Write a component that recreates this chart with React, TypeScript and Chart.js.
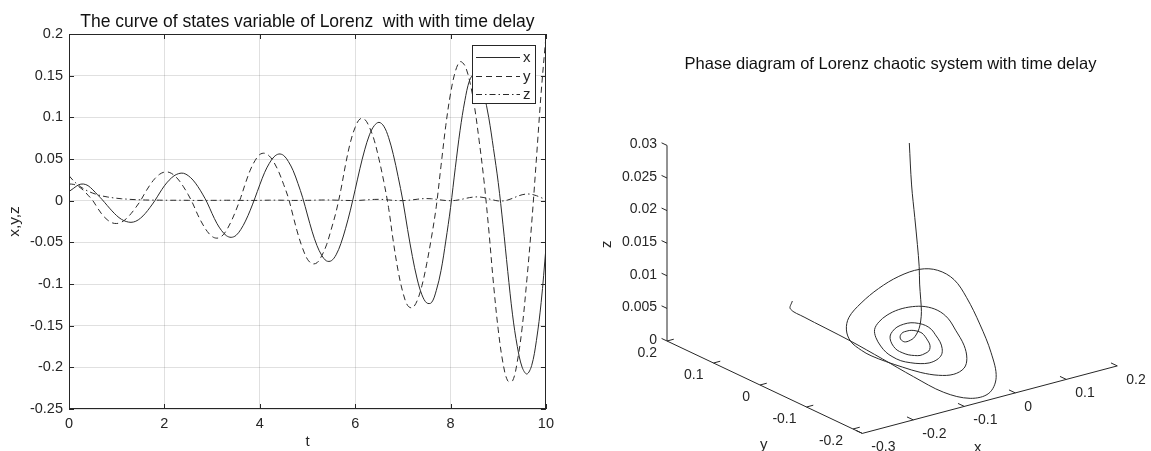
import React, { useEffect, useRef } from "react";
import { Chart, registerables } from "chart.js";

Chart.register(...registerables);

// ---------------- data ----------------
const T_STEP = 0.1;
const TIMES: number[] = Array.from({ length: 101 }, (_, i) => Math.round(i * T_STEP * 10) / 10);

const X_VALUES: number[] = [
  0.011, 0.015, 0.019, 0.02, 0.018, 0.013, 0.007, 0.001, -0.0057, -0.0122,
  -0.018, -0.0224, -0.025, -0.026, -0.0247, -0.021, -0.0153, -0.008, 0.0, 0.0092,
  0.0178, 0.0246, 0.0297, 0.0325, 0.0329, 0.03, 0.0247, 0.0171, 0.0079, -0.0027,
  -0.0155, -0.0272, -0.036, -0.042, -0.044, -0.0418, -0.0348, -0.0245, -0.0115, 0.0033,
  0.019, 0.0336, 0.0448, 0.0527, 0.056, 0.0543, 0.047, 0.036, 0.0207, 0.0035,
  -0.0172, -0.0374, -0.054, -0.0657, -0.0723, -0.0721, -0.065, -0.0516, -0.0331, -0.0114,
  0.0132, 0.0385, 0.061, 0.079, 0.09, 0.094, 0.0894, 0.076, 0.0553, 0.029,
  0.0, -0.0347, -0.067, -0.094, -0.113, -0.1227, -0.1224, -0.108, -0.084, -0.0485,
  -0.0083, 0.0395, 0.0845, 0.12, 0.1445, 0.152, 0.146, 0.1277, 0.1, 0.0625,
  0.0217, -0.029, -0.085, -0.137, -0.175, -0.1997, -0.208, -0.198, -0.168, -0.122,
  -0.057,
];

const Y_VALUES: number[] = [
  0.02, 0.0195, 0.017, 0.0125, 0.0065, 0.0, -0.0089, -0.017, -0.0228, -0.0265,
  -0.0274, -0.0258, -0.0217, -0.0156, -0.0082, 0.0, 0.01, 0.019, 0.0265, 0.0317,
  0.0343, 0.034, 0.0307, 0.0248, 0.0167, 0.0072, -0.004, -0.017, -0.028, -0.037,
  -0.043, -0.045, -0.0428, -0.0357, -0.025, -0.0117, 0.0036, 0.021, 0.0366, 0.048,
  0.0554, 0.0569, 0.0536, 0.0457, 0.0343, 0.0195, 0.0033, -0.0186, -0.04, -0.0575,
  -0.0703, -0.0757, -0.0745, -0.066, -0.053, -0.034, -0.0134, 0.0129, 0.0437, 0.07,
  0.088, 0.098, 0.0976, 0.088, 0.0725, 0.0497, 0.023, -0.0083, -0.049, -0.084,
  -0.11, -0.1258, -0.1285, -0.12, -0.102, -0.0758, -0.044, -0.0074, 0.0418, 0.09,
  0.1286, 0.155, 0.1668, 0.162, 0.1436, 0.1136, 0.0718, 0.0246, -0.034, -0.0994,
  -0.155, -0.195, -0.2163, -0.2163, -0.193, -0.153, -0.095, -0.028, 0.05, 0.13,
  0.197,
];

const Z_VALUES: number[] = [
  0.03, 0.0235, 0.0185, 0.0145, 0.0114, 0.009, 0.0071, 0.0056, 0.0045, 0.0036,
  0.0029, 0.0023, 0.0019, 0.0015, 0.0012, 0.001, 0.0008, 0.0007, 0.0006, 0.0006,
  0.0005, 0.0005, 0.0005, 0.0005, 0.0005, 0.0004, 0.0003, 0.0003, 0.0003, 0.0003,
  0.0004, 0.0004, 0.0005, 0.0005, 0.0005, 0.0004, 0.0003, 0.0003, 0.0003, 0.0003,
  0.0004, 0.0005, 0.0006, 0.0006, 0.0006, 0.0005, 0.0004, 0.0003, 0.0003, 0.0003,
  0.0004, 0.0005, 0.0007, 0.0008, 0.0008, 0.0008, 0.0006, 0.0004, 0.0003, 0.0002,
  0.0002, 0.0004, 0.0008, 0.0012, 0.0015, 0.0016, 0.0014, 0.0009, 0.0004, 0.0001,
  0.0001, 0.0004, 0.001, 0.0017, 0.0023, 0.0025, 0.0023, 0.0016, 0.0008, 0.0002,
  0.0, 0.0003, 0.0012, 0.0025, 0.0037, 0.0044, 0.0045, 0.0037, 0.0022, 0.0008,
  -0.0003, -0.0003, 0.0008, 0.0028, 0.0052, 0.0071, 0.008, 0.0076, 0.006, 0.0036,
  0.0012,
];

const SERIES_LABELS = ["x", "y", "z"];
const T_TICK_STEP = 2;
const V_MIN = -0.25;
const V_MAX = 0.2;
const V_TICK_STEP = 0.05;

// 3-D axes of the phase diagram
const X3_LIM = [-0.3, 0.2];
const Y3_LIM = [-0.22, 0.2];
const Z3_LIM = [0, 0.03];
const X3_TICKS = [-0.3, -0.2, -0.1, 0, 0.1, 0.2];
const Y3_TICKS = [-0.2, -0.1, 0, 0.1, 0.2];
const Z3_TICKS = [0, 0.005, 0.01, 0.015, 0.02, 0.025, 0.03];

// ---------------- styles ----------------
const FONT = '"Liberation Sans", Arial, Helvetica, sans-serif';
const AXIS_COLOR = "#262626";
const LINE_COLOR = "#2a2a2a";
const GRID_COLOR = "rgba(38,38,38,0.14)";
const DASHES: (number[] | undefined)[] = [undefined, [6, 4], [6, 3, 1.5, 3]];

const fmt = (v: number) => {
  const n = Math.round(v * 10000) / 10000;
  return n === 0 ? "0" : String(n);
};

// 3-D orthographic view (MATLAB default view), in pixels of the right canvas
const RIGHT_LEFT = 560;
const ORIGIN = [913 - RIGHT_LEFT, 344.5];
const EX = [510, -135];
const EY = [-465, -220];
const EZ = [0, -6520];
const project = (x: number, y: number, z: number) => ({
  x: ORIGIN[0] + EX[0] * x + EY[0] * y + EZ[0] * z,
  y: ORIGIN[1] + EX[1] * x + EY[1] * y + EZ[1] * z,
});

const boxPlugin = {
  id: "matlabBox",
  afterDraw(chart: any) {
    const { ctx, chartArea: a, scales } = chart;
    ctx.save();
    ctx.strokeStyle = AXIS_COLOR;
    ctx.lineWidth = 1;
    ctx.strokeRect(Math.round(a.left) + 0.5, Math.round(a.top) + 0.5, Math.round(a.right - a.left) - 1, Math.round(a.bottom - a.top) - 1);
    const tl = 5;
    ctx.beginPath();
    scales.x.ticks.forEach((t: any) => {
      const px = Math.round(scales.x.getPixelForValue(t.value)) + 0.5;
      ctx.moveTo(px, a.bottom);
      ctx.lineTo(px, a.bottom - tl);
      ctx.moveTo(px, a.top);
      ctx.lineTo(px, a.top + tl);
    });
    scales.y.ticks.forEach((t: any) => {
      const py = Math.round(scales.y.getPixelForValue(t.value)) + 0.5;
      ctx.moveTo(a.left, py);
      ctx.lineTo(a.left + tl, py);
      ctx.moveTo(a.right, py);
      ctx.lineTo(a.right - tl, py);
    });
    ctx.stroke();
    ctx.restore();
  },
};

const legendPlugin = {
  id: "matlabLegend",
  afterDatasetsDraw(chart: any) {
    const { ctx, chartArea: a } = chart;
    const w = 63;
    const h = 58;
    const x0 = Math.round(a.right - 11 - w);
    const y0 = Math.round(a.top + 11);
    ctx.save();
    ctx.fillStyle = "#ffffff";
    ctx.fillRect(x0, y0, w, h);
    ctx.strokeStyle = AXIS_COLOR;
    ctx.lineWidth = 1;
    ctx.strokeRect(x0 + 0.5, y0 + 0.5, w, h);
    chart.data.datasets.forEach((ds: any, i: number) => {
      const cy = Math.round(y0 + 12 + i * 18.5) + 0.5;
      ctx.beginPath();
      ctx.setLineDash(ds.borderDash || []);
      ctx.strokeStyle = ds.borderColor;
      ctx.lineWidth = ds.borderWidth;
      ctx.moveTo(x0 + 4, cy);
      ctx.lineTo(x0 + 48, cy);
      ctx.stroke();
      ctx.setLineDash([]);
      ctx.fillStyle = AXIS_COLOR;
      ctx.font = `15px ${FONT}`;
      ctx.textBaseline = "middle";
      ctx.textAlign = "left";
      ctx.fillText(ds.label, x0 + 51, cy);
    });
    ctx.restore();
  },
};

const axes3dPlugin = {
  id: "axes3d",
  beforeDatasetsDraw(chart: any) {
    const { ctx, scales } = chart;
    const P = (x: number, y: number, z: number) => {
      const p = project(x, y, z);
      return [scales.x.getPixelForValue(p.x), scales.y.getPixelForValue(p.y)];
    };
    const [xmin, xmax] = X3_LIM;
    const [ymin, ymax] = Y3_LIM;
    const [zmin, zmax] = Z3_LIM;
    const norm = (v: number[]) => {
      const l = Math.hypot(v[0], v[1]);
      return [v[0] / l, v[1] / l];
    };
    const dirX = norm(EX);
    const dirY = norm(EY);
    ctx.save();
    ctx.strokeStyle = AXIS_COLOR;
    ctx.lineWidth = 1;
    ctx.beginPath();
    let a = P(xmin, ymax, zmin);
    let b = P(xmin, ymax, zmax);
    ctx.moveTo(a[0], a[1]);
    ctx.lineTo(b[0], b[1]);
    a = P(xmin, ymax, zmin);
    b = P(xmin, ymin, zmin);
    ctx.moveTo(a[0], a[1]);
    ctx.lineTo(b[0], b[1]);
    a = P(xmin, ymin, zmin);
    b = P(xmax, ymin, zmin);
    ctx.moveTo(a[0], a[1]);
    ctx.lineTo(b[0], b[1]);
    const tl = 7;
    Z3_TICKS.forEach((z) => {
      const p = P(xmin, ymax, z);
      ctx.moveTo(p[0], p[1]);
      ctx.lineTo(p[0] + dirY[0] * 6, p[1] + dirY[1] * 6);
    });
    Y3_TICKS.forEach((y) => {
      const p = P(xmin, y, zmin);
      ctx.moveTo(p[0], p[1]);
      ctx.lineTo(p[0] + dirX[0] * tl, p[1] + dirX[1] * tl);
    });
    X3_TICKS.forEach((x) => {
      const p = P(x, ymin, zmin);
      ctx.moveTo(p[0], p[1]);
      ctx.lineTo(p[0] + dirY[0] * tl, p[1] + dirY[1] * tl);
    });
    ctx.stroke();

    ctx.fillStyle = AXIS_COLOR;
    ctx.font = `14px ${FONT}`;
    ctx.textBaseline = "middle";
    ctx.textAlign = "right";
    Z3_TICKS.forEach((z) => {
      const p = P(xmin, ymax, z);
      ctx.fillText(fmt(z), p[0] - 10, p[1] - 1);
    });
    Y3_TICKS.forEach((y) => {
      const p = P(xmin, y, zmin);
      ctx.fillText(fmt(y), p[0] - 10, p[1] + 12);
    });
    ctx.textAlign = "left";
    X3_TICKS.forEach((x) => {
      const p = P(x, ymin, zmin);
      ctx.fillText(fmt(x), p[0] + 9, p[1] + 14);
    });
    ctx.textAlign = "center";
    ctx.font = `15px ${FONT}`;
    const ym = P(xmin, (ymin + ymax) / 2, zmin);
    ctx.fillText("y", ym[0] - 1, ym[1] + 58);
    const xm = P((xmin + xmax) / 2, ymin, zmin);
    ctx.fillText("x", xm[0] - 12, xm[1] + 48);
    const zm = P(xmin, ymax, (zmin + zmax) / 2);
    ctx.save();
    ctx.translate(zm[0] - 60, zm[1] + 1);
    ctx.rotate(-Math.PI / 2);
    ctx.fillText("z", 0, 0);
    ctx.restore();
    ctx.restore();
  },
};

export default function App() {
  const leftRef = useRef<HTMLCanvasElement | null>(null);
  const rightRef = useRef<HTMLCanvasElement | null>(null);

  useEffect(() => {
    const seriesValues = [X_VALUES, Y_VALUES, Z_VALUES];
    const left = new Chart(leftRef.current as HTMLCanvasElement, {
      type: "line",
      data: {
        datasets: seriesValues.map((vals, k) => ({
          label: SERIES_LABELS[k],
          data: TIMES.map((t, i) => ({ x: t, y: vals[i] })),
          borderColor: LINE_COLOR,
          borderWidth: 1,
          borderDash: DASHES[k],
          pointRadius: 0,
          tension: 0.35,
          fill: false,
        })),
      },
      options: {
        responsive: false,
        animation: false,
        events: [],
        layout: { padding: { left: 0, right: 13, top: 0, bottom: 0 } },
        plugins: {
          legend: { display: false },
          tooltip: { enabled: false },
          title: {
            display: true,
            text: "The curve of states variable of Lorenz  with with time delay",
            fullSize: false,
            color: "#111111",
            font: { family: FONT, size: 17.5, weight: "normal", lineHeight: "21px" },
            padding: { top: 12, bottom: 1 },
          },
        },
        scales: {
          x: {
            type: "linear",
            min: 0,
            max: 10,
            ticks: { stepSize: T_TICK_STEP, color: AXIS_COLOR, padding: 6, font: { family: FONT, size: 14.5 }, maxRotation: 0 },
            grid: { color: GRID_COLOR, drawTicks: false },
            border: { display: false },
            title: { display: true, text: "t", color: AXIS_COLOR, font: { family: FONT, size: 15 }, padding: { top: 0, bottom: 0 } },
            afterFit: (s: any) => {
              s.height = 42;
            },
          },
          y: {
            type: "linear",
            min: V_MIN,
            max: V_MAX,
            ticks: { stepSize: V_TICK_STEP, color: AXIS_COLOR, padding: 6, font: { family: FONT, size: 14.5 }, callback: (v: any) => fmt(Number(v)) },
            grid: { color: GRID_COLOR, drawTicks: false },
            border: { display: false },
            title: { display: true, text: "x,y,z", color: AXIS_COLOR, font: { family: FONT, size: 15.5 }, padding: { top: 5, bottom: 0 } },
            afterFit: (s: any) => {
              s.width = 69;
            },
          },
        },
      } as any,
      plugins: [legendPlugin, boxPlugin],
    });

    const right = new Chart(rightRef.current as HTMLCanvasElement, {
      type: "scatter",
      data: {
        datasets: [
          {
            label: "phase",
            data: TIMES.map((_, i) => project(X_VALUES[i], Y_VALUES[i], Z_VALUES[i])),
            showLine: true,
            borderColor: LINE_COLOR,
            borderWidth: 1,
            pointRadius: 0,
            tension: 0.35,
            fill: false,
          },
        ],
      },
      options: {
        responsive: false,
        animation: false,
        events: [],
        layout: { padding: { left: 70, right: 0, top: 0, bottom: 0 } },
        plugins: {
          legend: { display: false },
          tooltip: { enabled: false },
          title: {
            display: true,
            text: "Phase diagram of Lorenz chaotic system with time delay",
            fullSize: false,
            color: "#111111",
            font: { family: FONT, size: 16.5, weight: "normal", lineHeight: "20px" },
            padding: { top: 54, bottom: 0 },
          },
        },
        scales: {
          x: { type: "linear", display: false, min: 70, max: 591 },
          y: { type: "linear", display: false, min: 74, max: 451, reverse: true },
        },
      } as any,
      plugins: [axes3dPlugin],
    });

    return () => {
      left.destroy();
      right.destroy();
    };
  }, []);

  return (
    <div style={{ position: "absolute", left: 0, top: 0, width: 1151, height: 451, background: "#ffffff" }}>
      <canvas ref={leftRef} width={560} height={451} style={{ position: "absolute", left: 0, top: 0, width: 560, height: 451 }} />
      <canvas ref={rightRef} width={591} height={451} style={{ position: "absolute", left: RIGHT_LEFT, top: 0, width: 591, height: 451 }} />
    </div>
  );
}
